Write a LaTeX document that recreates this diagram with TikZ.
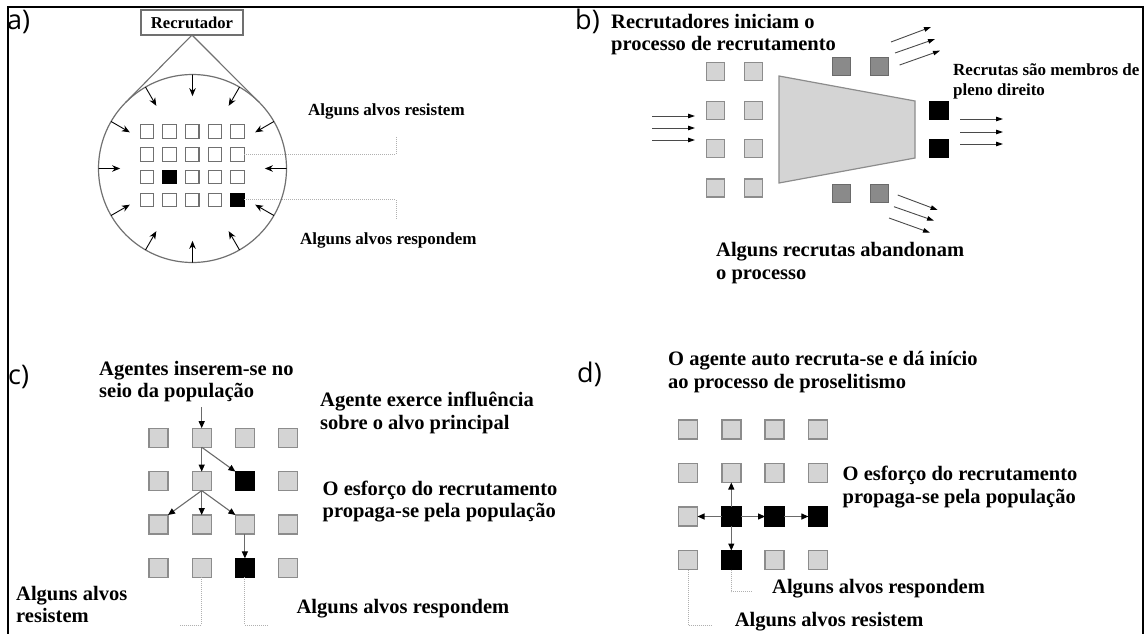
\documentclass[tikz,border=0pt]{standalone}
\usepackage{fontspec}
\setmainfont{Liberation Serif}
\newfontfamily\lblfont{Open Sans}
\usetikzlibrary{arrows.meta,calc}
\definecolor{sqline}{HTML}{8C8C8C}
\definecolor{sqfill}{HTML}{D4D4D4}
\definecolor{darkfill}{HTML}{8A8A8A}
\definecolor{darkline}{HTML}{6A6A6A}
\definecolor{circline}{HTML}{707070}
\definecolor{dotcol}{HTML}{B0B0B0}
\begin{document}
\begin{tikzpicture}[x=1pt,y=-1pt,
  wsq/.style={draw=circline, fill=white, line width=1.1pt, minimum size=13.5pt, inner sep=0, outer sep=0},
  bsqA/.style={wsq, fill=black, draw=black},
  lsq/.style={draw=sqline, fill=sqfill, line width=1.4pt, minimum size=18pt, inner sep=0, outer sep=0},
  dsq/.style={lsq, fill=darkfill, draw=darkline},
  ksq/.style={lsq, fill=black, draw=black},
  arrA/.style={line width=0.9pt, -{Stealth[length=8pt,width=6.5pt]}},
  arrG/.style={draw=darkline, line width=1.1pt, -{Triangle[length=7pt,width=6pt,color=black]}},
  arrB/.style={draw=darkline!70!black, line width=0.9pt, -{Triangle[length=7pt,width=4.5pt,color=black]}},
  dotl/.style={draw=dotcol, line width=1pt, dash pattern=on 1pt off 1pt},
  bigT/.style={font=\fontsize{20.5}{22.5}\selectfont\bfseries, inner sep=0, align=left, anchor=west},
  smT/.style={font=\fontsize{17}{20}\selectfont\bfseries, inner sep=0, align=left, anchor=west},
  lbl/.style={font=\lblfont\fontsize{27}{27}\selectfont, inner sep=0, anchor=west}]
\useasboundingbox (0,0) rectangle (1145,634);
% frame
\draw[line width=2pt] (8,634) -- (8,7) -- (1143,7) -- (1143,634);

% ---------------- panel a
\node[lbl] (la) at (7,22) {a)};
\node[draw=circline, line width=1.2pt, circle, minimum size=188pt, inner sep=0, outer sep=0] (circ) at (192.5,168.5) {};
\node[draw=circline, line width=1.2pt, fill=white, minimum width=102pt, minimum height=25pt, inner sep=0, outer sep=0,
      font=\fontsize{16.6}{18}\selectfont\bfseries] (rec) at (192,22.5) {Recrutador};
\draw[draw=circline, line width=1.1pt]
  (tangent cs:node=circ,point={(rec.south)},solution=1) -- (rec.south)
  -- (tangent cs:node=circ,point={(rec.south)},solution=2);
\foreach \a in {0,30,...,330}
  \draw[arrA] (circ.\a) -- ($(circ.center)!0.77!(circ.\a)$);
\foreach \j in {1,...,4} \foreach \i in {1,...,5} {
  \def\st{wsq}
  \ifnum\j\i=32 \def\st{bsqA}\fi
  \ifnum\j\i=45 \def\st{bsqA}\fi
  \node[\st] (a\j\i) at ({147+22.6*(\i-1)},{131.5+22.8*(\j-1)}) {};
}
\coordinate (ra) at (396,137);
\coordinate (rb) at (396,220);
\draw[dotl] (a25.east) -| (ra);
\draw[dotl] (a45.east) -| (rb);
\node[smT] (ta1) at (308,111) {Alguns alvos resistem};
\node[smT] (ta2) at (300,240) {Alguns alvos respondem};

% ---------------- panel b
\node[lbl] (lb) at (575,21.5) {b)};
\node[bigT] (tb1) at (611,34.5) {Recrutadores iniciam o\\processo de recrutamento};
\node[smT] (tb2) at (953,81) {Recrutas são membros de\\pleno direito};
\node[bigT, font=\fontsize{20.5}{23.3}\selectfont\bfseries] (tb3) at (716,263.4) {Alguns recrutas abandonam\\o processo};
\foreach \x [count=\i] in {715.5,753.5}
  \foreach \y [count=\j] in {71.5,110.5,148.5,188}
    \node[lsq] (b\j\i) at (\x,\y) {};
\filldraw[fill=sqfill, draw=sqline, line width=1.2pt] (779,76) -- (915,101) -- (915,158) -- (779,183) -- cycle;
\node[dsq] (bt1) at (841.5,66.5) {};
\node[dsq] (bt2) at (879.5,66.5) {};
\node[dsq] (bd1) at (841.5,193.5) {};
\node[dsq] (bd2) at (879.5,193.5) {};
\node[ksq] (bk1) at (939,110.5) {};
\node[ksq] (bk2) at (939,148.5) {};
\foreach \y in {116,128,140} \draw[arrB] (652,\y) -- (695,\y);
\foreach \y in {119,132,144} \draw[arrB] (960,\y) -- (1003,\y);
\draw[arrB] (891,42) -- (931,27);
\draw[arrB] (895,53) -- (935,39);
\draw[arrB] (899.6,65) -- (940,50.7);
\draw[arrB] (897.7,195) -- (937.6,210);
\draw[arrB] (894,206.7) -- (934,220.7);
\draw[arrB] (889,218) -- (930,232.7);

% ---------------- panel c
\node[lbl] (lc) at (8,377) {c)};
\foreach \j in {1,...,4} \foreach \i in {1,...,4} {
  \def\st{lsq}
  \ifnum\j\i=23 \def\st{ksq}\fi
  \ifnum\j\i=43 \def\st{ksq}\fi
  \node[\st, minimum size=19pt] (c\j\i) at ({158.5+43.2*(\i-1)},{437.7+43.4*(\j-1)}) {};
}
\coordinate (cin) at (201.7,407);
\draw[arrG] (cin) -- (c12.north);
\draw[arrG] (c12.south) -- (c22.north);
\draw[arrG] (c12.south) -- (c23.north west);
\draw[arrG] (c22.south) -- (c31.north east);
\draw[arrG] (c22.south) -- (c32.north);
\draw[arrG] (c22.south) -- (c33.north west);
\draw[arrG] (c33.south) -- (c43.north);
\coordinate (cl) at (180,625);
\coordinate (cr) at (268,625);
\draw[dotl] (c42.south) |- (cl);
\draw[dotl] (c43.south) |- (cr);
\node[bigT] (tc1) at (99,381.5) {Agentes inserem-se no\\seio da população};
\node[bigT] (tc2) at (320,413) {Agente exerce influência\\sobre o alvo principal};
\node[bigT] (tc3) at (322.5,501.5) {O esforço do recrutamento\\propaga-se pela população};
\node[bigT] (tc4) at (16,604.5) {Alguns alvos\\resistem};
\node[bigT] (tc5) at (296.4,609) {Alguns alvos respondem};

% ---------------- panel d
\node[lbl] (ld) at (577,374.5) {d)};
\foreach \j in {1,...,4} \foreach \i in {1,...,4} {
  \def\st{lsq}
  \ifnum\j\i=32 \def\st{ksq}\fi
  \ifnum\j\i=33 \def\st{ksq}\fi
  \ifnum\j\i=34 \def\st{ksq}\fi
  \ifnum\j\i=42 \def\st{ksq}\fi
  \node[\st, minimum size=19pt] (d\j\i) at ({688+43.3*(\i-1)},{429.5+43.5*(\j-1)}) {};
}
\draw[arrG] (d32.west) -- (d31.east);
\draw[arrG] (d32.north) -- (d22.south);
\draw[arrG] (d32.east) -- (d33.west);
\draw[arrG] (d32.south) -- (d42.north);
\draw[arrG] (d33.east) -- (d34.west);
\coordinate (dl1) at (752,591.7);
\coordinate (dl2) at (711,625);
\draw[dotl] (d42.south) |- (dl1);
\draw[dotl] (d41.south) |- (dl2);
\node[bigT] (td1) at (668,372.3) {O agente auto recruta-se e dá início\\ao processo de proselitismo};
\node[bigT] (td2) at (842.5,487) {O esforço do recrutamento\\propaga-se pela população};
\node[bigT] (td3) at (772,589) {Alguns alvos respondem};
\node[bigT] (td4) at (734.6,621.7) {Alguns alvos resistem};
\end{tikzpicture}
\end{document}
